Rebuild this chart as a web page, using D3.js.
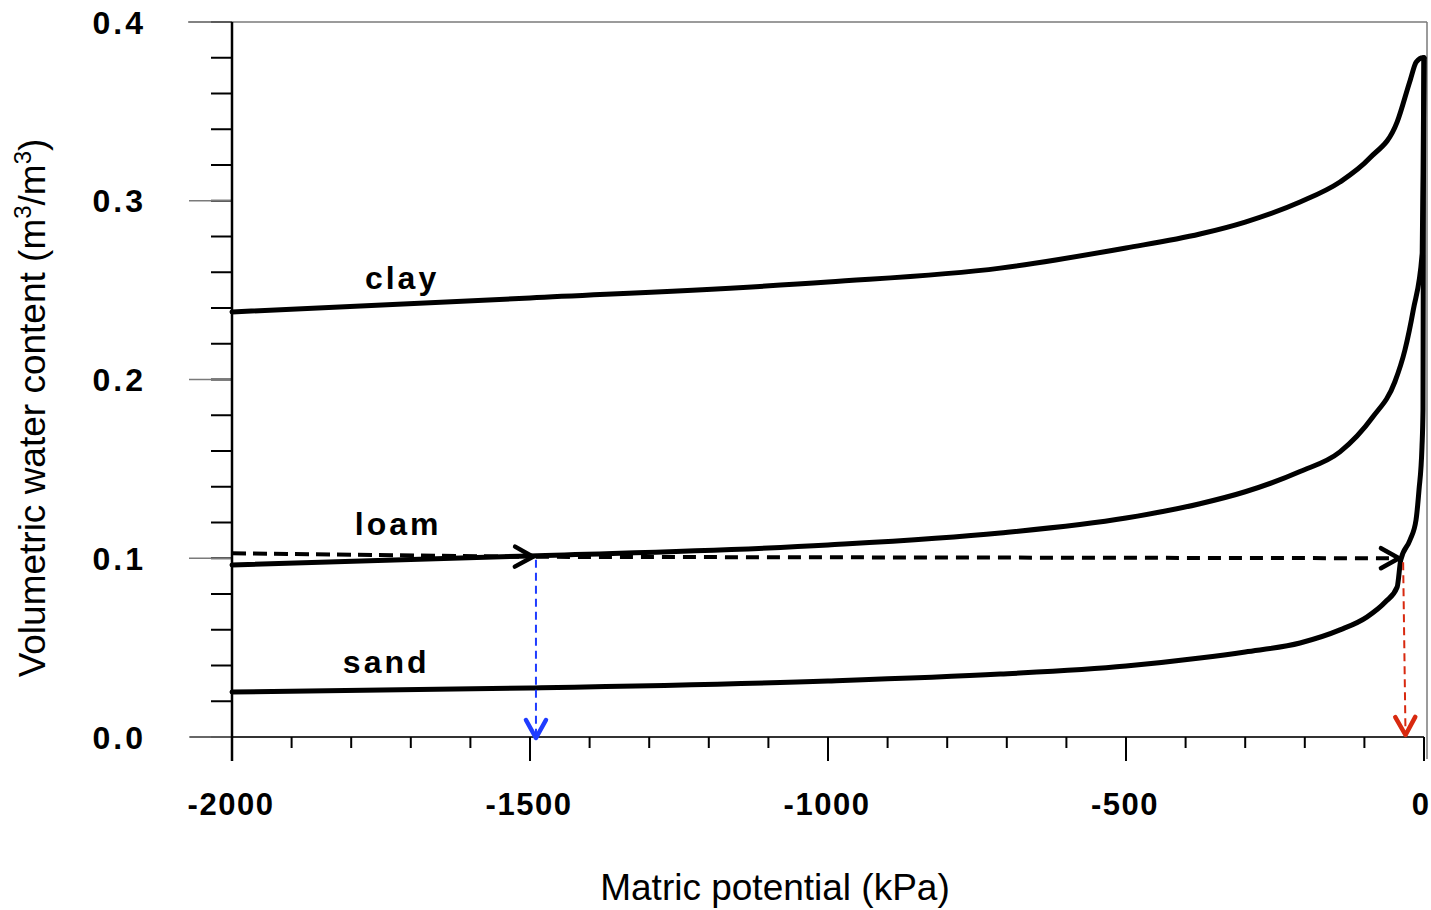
<!DOCTYPE html>
<meta charset="utf-8">
<style>
body { margin: 0; background: #fff; }
.curve { fill: none; stroke: #000; stroke-width: 5px; stroke-linejoin: round; stroke-linecap: round; }
.tick-label { font-family: "Liberation Sans", Arial, sans-serif; font-weight: bold; font-size: 31px; letter-spacing: 1.5px; fill: #000; }
.ytick-label { letter-spacing: 3px; font-size: 32px; }
.soil-label { font-family: "Liberation Sans", Arial, sans-serif; font-weight: bold; font-size: 32px; letter-spacing: 3px; fill: #000; }
.axis-title { font-family: "Liberation Sans", Arial, sans-serif; font-size: 37px; fill: #000; }
</style>
<body>
<script src="https://d3js.org/d3.v7.min.js"></script>
<script>

// data (kPa, m3/m3)
var clayKPa   = [-2000, -1500, -1000, -711, -500, -376, -300, -208, -141, -91, -45, -23, -13, -2, 0];
var clayTheta = [0.2378, 0.2456, 0.2545, 0.2623, 0.2736, 0.2814, 0.2881, 0.2993, 0.3105, 0.3239, 0.3441, 0.3676, 0.3776, 0.380, 0.380];

var loamKPa   = [-2000, -1500, -1000, -711, -500, -376, -300, -208, -141, -86, -49, -32, -18, -3, -1, 0];
var loamTheta = [0.0962, 0.1013, 0.1074, 0.1141, 0.1225, 0.1305, 0.1372, 0.1485, 0.1595, 0.179, 0.1986, 0.2165, 0.2389, 0.2708, 0.34, 0.38];

var sandKPa   = [-2000, -1500, -1000, -711, -500, -376, -300, -208, -141, -96, -65, -45, -39, -23.5, -13.4, -8.4, -3.4, -1.7, -1, 0];
var sandTheta = [0.0252, 0.0274, 0.0313, 0.0352, 0.0397, 0.0442, 0.0476, 0.0526, 0.0599, 0.0671, 0.0755, 0.0839, 0.099, 0.1102, 0.1214, 0.1382, 0.1622, 0.1829, 0.30, 0.38];

var soilNames  = ["clay", "loam", "sand"];
var soilLabelX = [-1777, -1794, -1814];
var soilLabelY = [0.2505, 0.113, 0.0358];

var xMajor = [-2000, -1500, -1000, -500, 0];
var yMajor = [0.0, 0.1, 0.2, 0.3, 0.4];

// the wilting point / field capacity arrows
var wiltKPa = -1490, wiltTheta = 0.1008;
var fcKPa = -37, fcTheta = 0.1;

var margin = {top: 22, left: 232};

var x = d3.scaleLinear().domain([-2000, 0]).range([0, 1192]);
var y = d3.scaleLinear().domain([0, 0.4]).range([715, 0]);

var svg = d3.select("body").append("svg")
    .attr("width", 1431)
    .attr("height", 910);

var defs = svg.append("defs");
function chevron(id, color) {
  defs.append("marker")
      .attr("id", id)
      .attr("markerUnits", "userSpaceOnUse")
      .attr("viewBox", "-22 -14 26 28")
      .attr("markerWidth", 26)
      .attr("markerHeight", 28)
      .attr("refX", 0)
      .attr("refY", 0)
      .attr("orient", "auto")
    .append("path")
      .attr("d", "M-18,-10L0,0L-18,10")
      .attr("fill", "none")
      .attr("stroke", color)
      .attr("stroke-width", 4.5)
      .attr("stroke-linecap", "round")
      .attr("stroke-linejoin", "round");
}
chevron("arrBlack", "#000");
chevron("arrBlue", "#1f3cff");
chevron("arrRed", "#d8290f");

var g = svg.append("g")
    .attr("transform", "translate(" + margin.left + "," + margin.top + ")");

// frame
var frame = "#7a7a7a";
g.append("line").attr("x1", -44).attr("x2", x(0) + 3).attr("y1", 0).attr("y2", 0)
    .attr("stroke", frame).attr("stroke-width", 1.5);
g.append("line").attr("x1", x(0) + 3).attr("x2", x(0) + 3).attr("y1", 0).attr("y2", y(0) + 22)
    .attr("stroke", frame).attr("stroke-width", 1.5);
g.append("line").attr("x1", -42).attr("x2", x(0)).attr("y1", y(0)).attr("y2", y(0))
    .attr("stroke", "#333").attr("stroke-width", 2);

// y ticks
var yMinor = d3.range(0, 21).map(function(i) { return i * 0.02; });
g.selectAll(".yminor").data(yMinor).enter().append("line")
    .attr("x1", -21).attr("x2", 0)
    .attr("y1", function(d) { return y(d); })
    .attr("y2", function(d) { return y(d); })
    .attr("stroke", "#000").attr("stroke-width", 2);
g.selectAll(".ymajor").data(yMajor).enter().append("line")
    .attr("x1", -43).attr("x2", 0)
    .attr("y1", function(d) { return y(d); })
    .attr("y2", function(d) { return y(d); })
    .attr("stroke", frame).attr("stroke-width", 1.5);
g.selectAll(".ylab").data(yMajor).enter().append("text")
    .attr("class", "tick-label ytick-label")
    .attr("x", -86)
    .attr("y", function(d) { return y(d); })
    .attr("dy", "0.36em")
    .attr("text-anchor", "end")
    .text(function(d) { return d3.format(".1f")(d); });

// left spine
g.append("line").attr("x1", 0).attr("x2", 0).attr("y1", 0).attr("y2", y(0) + 24)
    .attr("stroke", "#000").attr("stroke-width", 2.5);

// x ticks
var xMinor = d3.range(-2000, 1, 100);
g.selectAll(".xminor").data(xMinor).enter().append("line")
    .attr("x1", function(d) { return x(d); })
    .attr("x2", function(d) { return x(d); })
    .attr("y1", y(0)).attr("y2", y(0) + 11)
    .attr("stroke", "#000").attr("stroke-width", 2);
g.selectAll(".xmajor").data(xMajor).enter().append("line")
    .attr("x1", function(d) { return x(d); })
    .attr("x2", function(d) { return x(d); })
    .attr("y1", y(0)).attr("y2", y(0) + 24)
    .attr("stroke", "#000").attr("stroke-width", 2);
g.selectAll(".xlab").data(xMajor).enter().append("text")
    .attr("class", "tick-label")
    .attr("x", function(d) { return x(d) + (d === 0 ? -3 : -1); })
    .attr("y", y(0) + 78)
    .attr("text-anchor", "middle")
    .text(function(d) { return d; });

// curves
var line = d3.line()
    .x(function(d) { return x(d[0]); })
    .y(function(d) { return y(d[1]); })
    .curve(d3.curveMonotoneX);

var curves = [d3.zip(clayKPa, clayTheta), d3.zip(loamKPa, loamTheta), d3.zip(sandKPa, sandTheta)];
g.selectAll(".curve").data(curves).enter().append("path")
    .attr("class", "curve")
    .attr("d", line);

// dashed guide arrows
g.append("line")
    .attr("x1", x(-2000)).attr("y1", y(0.1028))
    .attr("x2", x(wiltKPa) - 3).attr("y2", y(wiltTheta))
    .attr("stroke", "#000").attr("stroke-width", 4).attr("stroke-dasharray", "14,7")
    .attr("marker-end", "url(#arrBlack)");
g.append("line")
    .attr("x1", x(wiltKPa)).attr("y1", y(wiltTheta))
    .attr("x2", x(fcKPa) - 3).attr("y2", y(fcTheta))
    .attr("stroke", "#000").attr("stroke-width", 4).attr("stroke-dasharray", "13,8")
    .attr("marker-end", "url(#arrBlack)");
g.append("line")
    .attr("x1", x(wiltKPa)).attr("y1", y(wiltTheta) + 3)
    .attr("x2", x(wiltKPa)).attr("y2", y(0) + 1)
    .attr("stroke", "#1f3cff").attr("stroke-width", 2).attr("stroke-dasharray", "8,5")
    .attr("marker-end", "url(#arrBlue)");
g.append("line")
    .attr("x1", x(fcKPa + 2)).attr("y1", y(fcTheta) + 4)
    .attr("x2", x(fcKPa + 6)).attr("y2", y(0) - 2)
    .attr("stroke", "#d8290f").attr("stroke-width", 2).attr("stroke-dasharray", "8,5")
    .attr("marker-end", "url(#arrRed)");

// soil labels
g.selectAll(".soil-label").data(soilNames).enter().append("text")
    .attr("class", "soil-label")
    .attr("x", function(d, i) { return x(soilLabelX[i]); })
    .attr("y", function(d, i) { return y(soilLabelY[i]); })
    .text(function(d) { return d; });

// axis titles
svg.append("text")
    .attr("class", "axis-title")
    .attr("x", 775)
    .attr("y", 900)
    .attr("text-anchor", "middle")
    .text("Matric potential (kPa)");

var yt = svg.append("text")
    .attr("class", "axis-title")
    .attr("transform", "translate(45,408) rotate(-90)")
    .attr("text-anchor", "middle");
yt.append("tspan").text("Volumetric water content (m");
yt.append("tspan").attr("font-size", "24px").attr("dy", "-14").text("3");
yt.append("tspan").attr("dy", "14").text("/m");
yt.append("tspan").attr("font-size", "24px").attr("dy", "-14").text("3");
yt.append("tspan").attr("dy", "14").text(")");

</script>
</body>
